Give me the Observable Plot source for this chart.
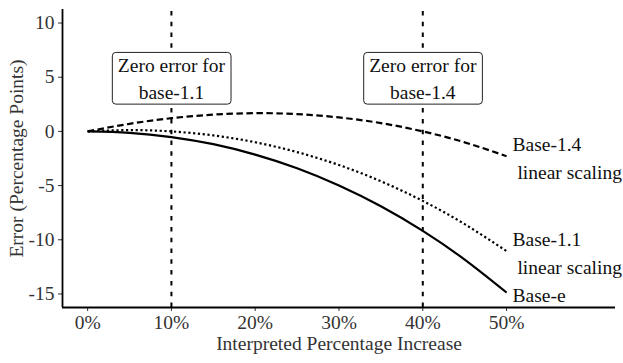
<!DOCTYPE html>
<html>
<head>
<meta charset="utf-8">
<script src="https://cdn.jsdelivr.net/npm/d3@7"></script>
<script src="https://cdn.jsdelivr.net/npm/@observablehq/plot@0.6"></script>
<style>
  html, body { margin: 0; padding: 0; background: #fff; }
  #chart { width: 623px; height: 363px; }
  #chart svg, #chart svg text { font-family: "Liberation Serif", "DejaVu Serif", serif !important; }
</style>
</head>
<body>
<div id="chart"></div>
<script>
// Interpreted percentage increase (x) and error in percentage points
const xValues   = [0, 0.05, 0.10, 0.15, 0.20, 0.25, 0.30, 0.35, 0.40, 0.45, 0.50];
const baseE     = [0, -0.13, -0.52, -1.18, -2.14, -3.40, -4.99, -6.91, -9.18, -11.83, -14.87];
const base11    = [0, 0.12, 0.00, -0.37, -1.00, -1.91, -3.10, -4.60, -6.41, -8.56, -11.05];
const base14    = [0, 0.70, 1.22, 1.55, 1.68, 1.60, 1.29, 0.77, 0.00, -1.01, -2.29];

const seriesNames  = ["Base-e", "Base-1.1", "Base-1.4"];
const seriesLabels = ["Base-e", "Base-1.1\n\u00a0linear scaling", "Base-1.4\n\u00a0linear scaling"];

const zeroErrorX      = [0.1, 0.4];
const zeroErrorLabels = ["Zero error for\nbase-1.1", "Zero error for\nbase-1.4"];
const zeroLabelY      = 5;

const xTicks      = [0, 0.1, 0.2, 0.3, 0.4, 0.5];
const xTickLabels = ["0%", "10%", "20%", "30%", "40%", "50%"];
const yTicks      = [-15, -10, -5, 0, 5, 10];
const yTickLabels = ["-15", "-10", "-5", "0", "5", "10"];

const seriesValues = [baseE, base11, base14];
const rows = seriesNames.flatMap((s, k) => xValues.map((x, i) => ({series: s, x, y: seriesValues[k][i]})));
const ends = seriesNames.map((s, k) => ({series: s, x: xValues[xValues.length - 1], y: seriesValues[k][xValues.length - 1], label: seriesLabels[k]}));
const zeroRows = zeroErrorX.map((x, i) => ({x, y: zeroLabelY, label: zeroErrorLabels[i]}));

const dashes = {"Base-e": null, "Base-1.1": "2.2,2.6", "Base-1.4": "6.5,3.5"};
const font = "Liberation Serif";
const xDomain = [-0.03, 0.63];
const yDomain = [-16.25, 11.25];
const fs = 19.5;

const plot = Plot.plot({
  width: 623,
  height: 363,
  marginLeft: 62,
  marginRight: 8,
  marginTop: 9,
  marginBottom: 56,
  style: {fontFamily: font, fontSize: fs + "px", background: "#fff", color: "#111"},
  x: {domain: xDomain},
  y: {domain: yDomain},
  marks: [
    Plot.ruleX(zeroErrorX, {y1: yDomain[0], y2: yDomain[1], stroke: "#000", strokeWidth: 2, strokeDasharray: "4.5,6.3", strokeLinecap: "butt"}),
    ...seriesNames.map(s => Plot.line(rows.filter(d => d.series === s), {
      x: "x", y: "y", stroke: "#000", strokeWidth: 2.2, curve: "natural",
      strokeDasharray: dashes[s] || undefined, strokeLinecap: "butt"
    })),
    Plot.text(ends, {x: "x", y: "y", text: "label", dx: 6, textAnchor: "start", lineHeight: 1.44, fontSize: fs, fontFamily: font, fill: "#111"}),
    Plot.text(zeroRows, {x: "x", y: "y", text: "label", lineHeight: 1.37, fontSize: fs, fontFamily: font, fill: "#111"}),
    Plot.axisX({ticks: xTicks, tickFormat: (d) => xTickLabels[xTicks.indexOf(d)], tickSize: 4, tickPadding: 4,
      stroke: "#333", fill: "#333", fontSize: fs, fontFamily: font,
      label: "Interpreted Percentage Increase", labelAnchor: "center", labelOffset: 42, labelArrow: "none"}),
    Plot.axisY({ticks: yTicks, tickFormat: d => yTickLabels[yTicks.indexOf(d)], tickSize: 4, tickPadding: 4,
      stroke: "#333", fill: "#333", fontSize: fs, fontFamily: font,
      label: "Error (Percentage Points)", labelAnchor: "center", labelOffset: 53, labelArrow: "none"}),
    Plot.ruleX([xDomain[0]], {stroke: "#000", strokeWidth: 1.8}),
    Plot.ruleY([yDomain[0]], {stroke: "#000", strokeWidth: 1.8})
  ]
});

document.getElementById("chart").appendChild(plot);

// Draw label boxes behind the "Zero error" texts (geom_label style)
plot.querySelectorAll("text").forEach(t => {
  if (!t.textContent.startsWith("Zero error")) return;
  const b = t.getBBox();
  const r = document.createElementNS("http://www.w3.org/2000/svg", "rect");
  r.setAttribute("x", b.x - 5.5);
  r.setAttribute("y", b.y - 3);
  r.setAttribute("width", b.width + 11);
  r.setAttribute("height", b.height + 4);
  r.setAttribute("rx", 3.5);
  r.setAttribute("fill", "#fff");
  r.setAttribute("stroke", "#222");
  r.setAttribute("stroke-width", 1);
  const tr = t.getAttribute("transform");
  if (tr) r.setAttribute("transform", tr);
  t.parentNode.insertBefore(r, t);
});
</script>
</body>
</html>
